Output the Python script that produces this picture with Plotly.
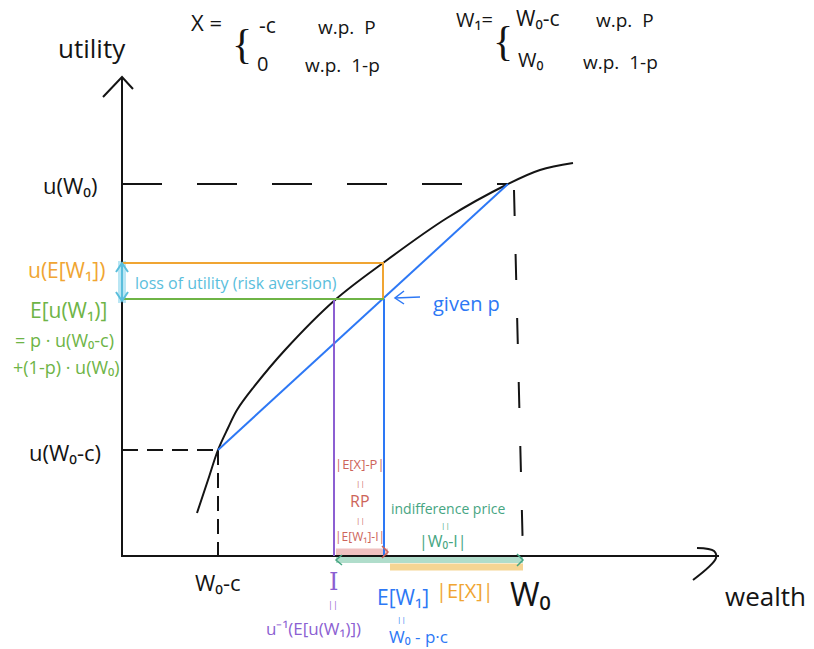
import plotly.graph_objects as go

# utility curve, hand drawn (wealth, utility), origin at the axes corner
curve_w = [75, 86, 96, 106, 115, 131, 163, 213, 261, 325, 386, 418, 451]
curve_u = [43, 76, 106, 128, 146, 168, 206, 256, 293, 338, 372, 386, 393]

# key points
W0_C, U_W0_C = 96, 106          # (W0 - c, u(W0 - c))
W0, U_W0 = 386, 372             # (W0, u(W0)) on the curve
W0_AXIS = 401                   # where W0 sits on the wealth axis
E_W1, EU_W1 = 262, 257          # E[W1], E[u(W1)]
U_E_W1 = 293                    # u(E[W1])
I_CE = 212                      # certainty equivalent I
AX_W, AX_U = 595, 479           # axis lengths

BLACK = 'rgb(20,20,20)'
BLUE = 'rgb(45,120,245)'
ORANGE = 'rgb(240,165,50)'
GREEN = 'rgb(110,180,70)'
CYAN = 'rgb(90,190,220)'
PURPLE = 'rgb(140,95,210)'
RED = 'rgb(205,100,90)'
TEAL = 'rgb(70,165,130)'

fig = go.Figure()


def line(xs, ys, color, width=2, dash='solid', shape='linear'):
    fig.add_trace(go.Scatter(x=xs, y=ys, mode='lines', hoverinfo='none',
                             line=dict(color=color, width=width, dash=dash, shape=shape)))


# translucent bands under the axis / beside the y axis
line([0, 0], [EU_W1 - 4, U_E_W1 + 2], 'rgba(100,200,230,0.45)', 8)
line([I_CE + 2, E_W1 + 4], [4, 4], 'rgba(225,140,140,0.55)', 7)
line([I_CE + 2, W0_AXIS], [-4, -4], 'rgba(80,180,140,0.45)', 6)
line([E_W1 + 6, W0_AXIS], [-11, -11], 'rgba(240,190,90,0.65)', 7)

# axes
line([0, 0, AX_W + 2], [AX_U, 0, 0], BLACK, 2)
line([-19, 0, 11], [AX_U - 20, AX_U, AX_U - 12], BLACK, 2)
line([AX_W - 20, AX_W - 3, AX_W - 1, AX_W - 24], [8, 5, -2, -24], BLACK, 2, shape='spline')

# dashed guides
line([0, W0], [U_W0, U_W0], BLACK, 2, '40px,35px')
line([W0 + 6, W0_AXIS], [U_W0 - 6, 0], BLACK, 2, '26px,38px')
line([0, W0_C], [U_W0_C, U_W0_C], BLACK, 2, '16px,9px')
line([W0_C, W0_C], [U_W0_C, 0], BLACK, 2, '15px,8px')

# utility curve
line(curve_w, curve_u, BLACK, 2, shape='spline')

# chord and expected wealth
line([W0_C, W0], [U_W0_C, U_W0], BLUE, 2)
line([E_W1, E_W1], [EU_W1, 0], BLUE, 2)
line([I_CE, I_CE], [EU_W1, 0], PURPLE, 2)
line([0, E_W1 - 1, E_W1 - 1], [U_E_W1, U_E_W1, EU_W1], ORANGE, 2)
line([0, E_W1], [EU_W1, EU_W1], GREEN, 2)

# cyan double arrow
line([0, 0], [EU_W1 - 2, U_E_W1], CYAN, 2)
line([-6, 0, 6], [U_E_W1 - 9, U_E_W1, U_E_W1 - 9], CYAN, 2)
line([-6, 0, 6], [EU_W1 + 7, EU_W1 - 2, EU_W1 + 7], CYAN, 2)

# arrow heads on the bands
line([E_W1 - 2, E_W1 + 4, E_W1 - 2], [10, 4, -2], RED, 1.5)
line([I_CE + 8, I_CE + 2, I_CE + 8], [1, -4, -9], TEAL, 1.5)
line([W0_AXIS - 6, W0_AXIS, W0_AXIS - 6], [2, -4, -10], TEAL, 1.5)

# "<- given p"
line([E_W1 + 36, E_W1 + 11], [EU_W1 + 2, EU_W1 + 1], BLUE, 1.5)
line([E_W1 + 20, E_W1 + 11, E_W1 + 20], [EU_W1 + 8, EU_W1 + 1, EU_W1 - 5], BLUE, 1.5)

FONT = 'Open Sans'


def txt(x, y, s, color=BLACK, size=18, family=FONT):
    return dict(x=x, y=y, text=s, showarrow=False, xref='x', yref='y',
                font=dict(family=family, size=size, color=color))


annotations = [
    txt(-30, 508, 'utility', size=26),
    txt(643, -40, 'wealth', size=26),
    # X definition
    txt(84, 534, 'X =', size=22),
    txt(120, 512, '{', size=42, family='DejaVu Sans ExtraLight'),
    txt(145, 531, '-c', size=21),
    txt(225, 529, 'w.p.  P', size=19),
    txt(140, 493, '0', size=20),
    txt(220, 491, 'w.p.  1-p', size=19),
    # W1 definition
    txt(352, 537, 'W₁=', size=20),
    txt(381, 515, '{', size=42, family='DejaVu Sans ExtraLight'),
    txt(416, 538, 'W₀-c', size=21),
    txt(503, 536, 'w.p.  P', size=19),
    txt(408, 497, 'W₀', size=20),
    txt(498, 494, 'w.p.  1-p', size=19),
    # y labels
    txt(-52, 371, 'u(W₀)', size=22),
    txt(-57, 104, 'u(W₀-c)', size=22),
    txt(-56, 286, 'u(E[W₁])', ORANGE, 21),
    txt(-54, 246, 'E[u(W₁)]', GREEN, 21),
    txt(-58, 216, '= p · u(W₀-c)', GREEN, 18),
    txt(-56, 189, '+(1-p) · u(W₀)', GREEN, 18),
    txt(114, 273, 'loss of utility (risk aversion)', CYAN, 16),
    txt(344, 253, 'given p', BLUE, 20),
    # x labels
    txt(96, -26, 'W₀-c', size=22),
    txt(211, -26, 'I', PURPLE, 24, 'DejaVu Serif'),
    txt(211, -48, '||', PURPLE, 9),
    txt(191, -72, 'u⁻¹(E[u(W₁)])', PURPLE, 17),
    txt(281, -41, 'E[W₁]', BLUE, 21),
    txt(279, -62, '||', BLUE, 8),
    txt(296, -80, 'W₀ - p·c', BLUE, 17),
    txt(343, -34, '|E[X]|', ORANGE, 20),
    txt(408, -37, 'W₀', size=32),
    # risk premium / indifference price
    txt(238, 92, '|E[X]-P|', RED, 13),
    txt(238, 74, '||', RED, 8),
    txt(238, 55, 'RP', RED, 16),
    txt(238, 37, '||', RED, 8),
    txt(238, 20, '|E[W₁]-I|', RED, 12),
    txt(326, 48, 'indifference price', TEAL, 14),
    txt(323, 32, '||', TEAL, 8),
    txt(321, 15, '|W₀-I|', TEAL, 16),
]

axis = dict(showline=False, zeroline=False, showgrid=False, showticklabels=False)
fig.update_layout(width=814, height=649,
                  margin=dict(l=0, r=0, t=0, b=0),
                  showlegend=False,
                  plot_bgcolor='white', paper_bgcolor='white',
                  xaxis=dict(axis, range=[-122, 692]),
                  yaxis=dict(axis, range=[-93, 556]),
                  annotations=annotations)
fig.write_html("out.html", config=dict(displayModeBar=False),
               post_script="document.body.style.margin='0';")
